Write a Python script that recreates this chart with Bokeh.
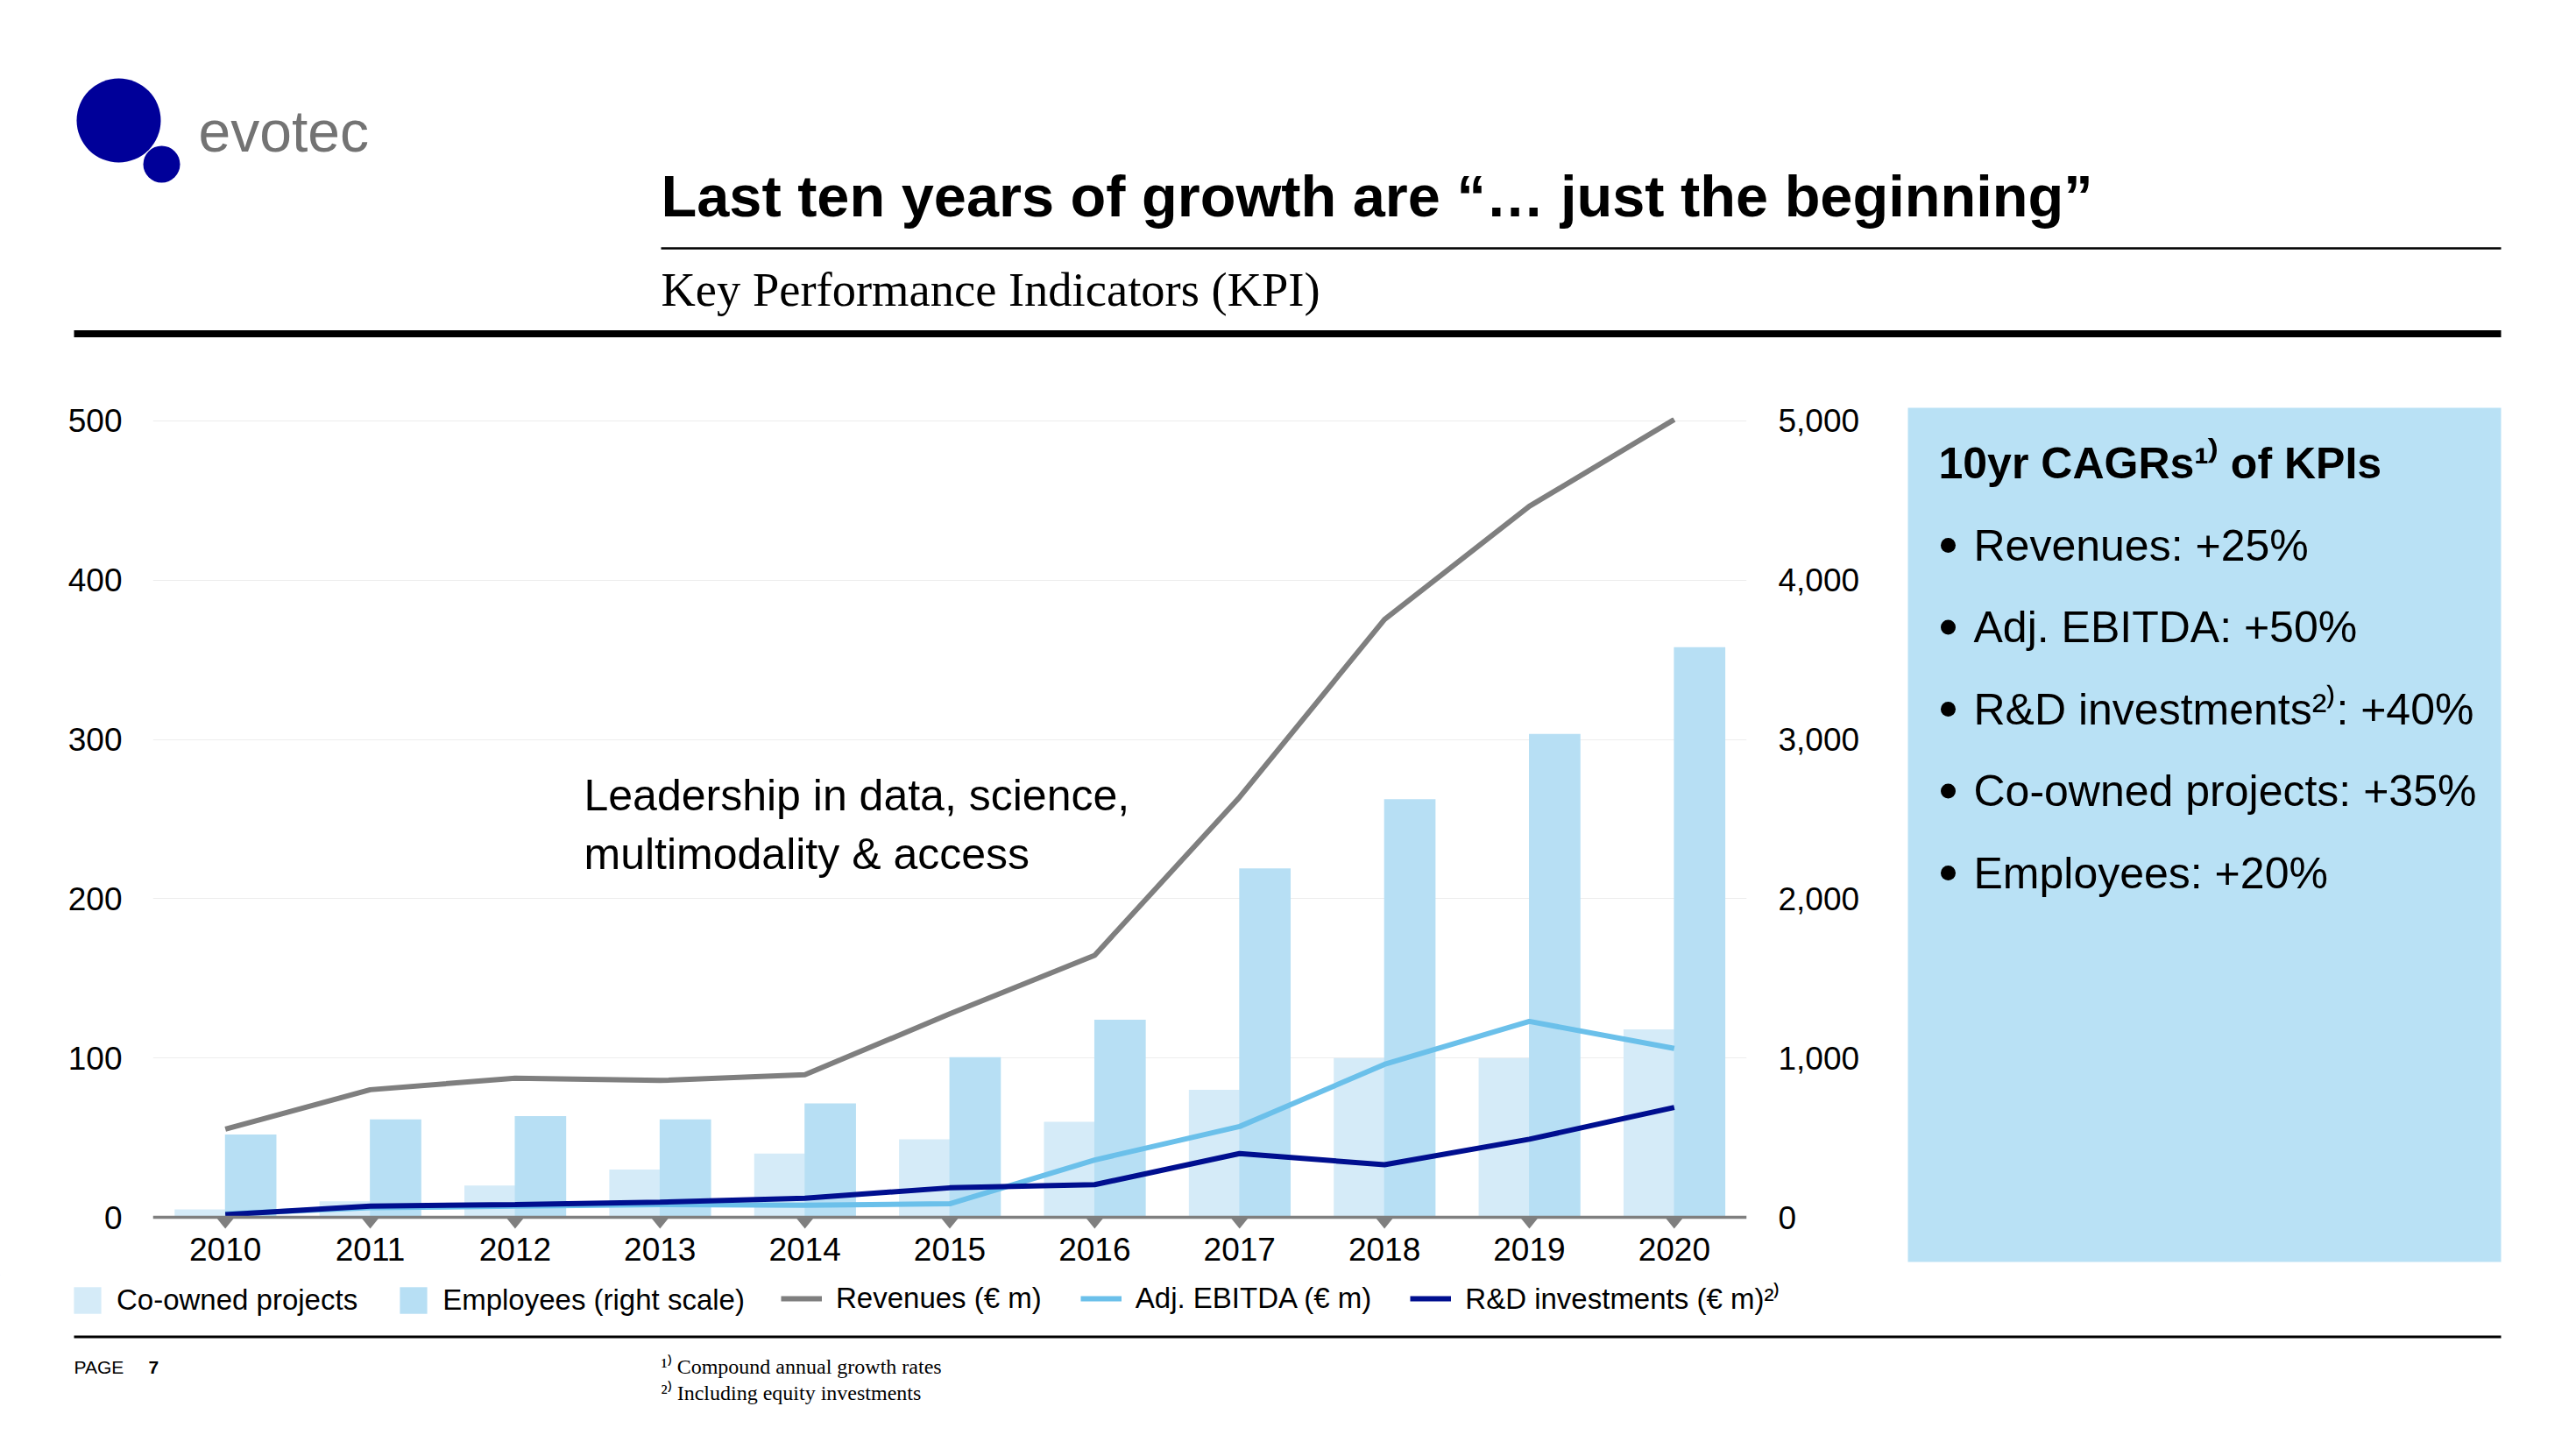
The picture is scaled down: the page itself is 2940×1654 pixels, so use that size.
from bokeh.plotting import figure
from bokeh.models import (ColumnDataSource, Range1d, FactorRange, LinearAxis, FixedTicker,
                          NumeralTickFormatter, Span, Legend, LegendItem, Label)
from bokeh.transform import dodge
from bokeh.layouts import column, row
from bokeh.core.properties import value
from bokeh.embed import file_html
from bokeh.resources import INLINE

# ---------------- data ----------------
years = ["2010", "2011", "2012", "2013", "2014", "2015", "2016", "2017", "2018", "2019", "2020"]
coowned_projects = [5, 10, 20, 30, 40, 49, 60, 80, 100, 100, 118]
employees = [520, 615, 635, 615, 715, 1005, 1240, 2190, 2625, 3035, 3580]
revenues = [55.3, 80.1, 87.3, 85.9, 89.5, 127.7, 164.5, 263.8, 375.4, 446.4, 500.9]
adj_ebitda = [2, 6, 7, 8, 7.5, 8.5, 36, 57, 96, 123, 106]
rd_investments = [1.7, 7, 8, 9.5, 12, 18.5, 20.5, 40, 33, 49, 69]
left_ticks = [0, 100, 200, 300, 400, 500]
right_ticks = [0, 1000, 2000, 3000, 4000, 5000]
cagr_title = "10yr CAGRs\u00b9\u207e of KPIs"
cagr_lines = ["Revenues: +25%", "Adj. EBITDA: +50%", "R&D investments\u00b2\u207e: +40%",
              "Co-owned projects: +35%", "Employees: +20%"]
legend_labels = ["Co-owned projects", "Employees (right scale)", "Revenues (\u20ac m)",
                 "Adj. EBITDA (\u20ac m)", "R&D investments (\u20ac m)\u00b2\u207e"]

SANS = "Liberation Sans"
SERIF = "Liberation Serif"
NAVY_LOGO = "#000099"
GRAY = "#7f7f7f"
CO_COL = "#d5ebf8"
EMP_COL = "#b7dff4"
BOX_COL = "#b9e1f5"
EBITDA_COL = "#6bc0ea"
RD_COL = "#000f8f"

PAGE_W = 2940


def deco_fig(w, h, x0, y0):
    f = figure(width=w, height=h, x_range=Range1d(x0, x0 + w), y_range=Range1d(y0 + h, y0),
               output_backend="svg", toolbar_location=None, min_border=0,
               x_axis_type=None, y_axis_type=None, outline_line_color=None)
    f.background_fill_color = "white"
    f.border_fill_color = "white"
    return f


def txt(f, x, y, s, size, font=SANS, style="normal", color="black", align="left"):
    f.text(x=[x], y=[y], text=[s], text_font=value(font), text_font_size=size,
           text_font_style=style, text_color=color, text_align=align, text_baseline="middle")


# ---------------- header ----------------
hdr = deco_fig(PAGE_W, 430, 0, 0)
hdr.circle(x=[135], y=[137], radius=48, fill_color=NAVY_LOGO, line_color=None)
hdr.circle(x=[184], y=[187], radius=21, fill_color=NAVY_LOGO, line_color=None)
txt(hdr, 226, 149, "evotec", "66px", color="#737373")
txt(hdr, 754, 223, "Last ten years of growth are \u201c\u2026 just the beginning\u201d", "66.7px", style="bold")
hdr.segment(x0=[754], y0=[283], x1=[2854], y1=[283], line_width=2.5, line_color="black")
txt(hdr, 754, 330, "Key Performance Indicators (KPI)", "54.5px", font=SERIF)
hdr.segment(x0=[84], y0=[380.5], x1=[2854], y1=[380.5], line_width=8, line_color="black")

# ---------------- chart ----------------
src = ColumnDataSource(dict(year=years, coowned=coowned_projects, employees=employees,
                            revenues=revenues, ebitda=adj_ebitda, rd=rd_investments))

p = figure(width=2150, height=1025, x_range=FactorRange(factors=years),
           y_range=Range1d(-7.7, 502.2), output_backend="svg", toolbar_location=None,
           min_border_left=174, min_border_right=157, min_border_top=46, min_border_bottom=52,
           outline_line_color=None)
p.extra_y_ranges = {"right": Range1d(-77, 5022)}
p.background_fill_color = "white"
p.border_fill_color = "white"

r_co = p.vbar(x=dodge("year", -0.175, range=p.x_range), top="coowned", width=0.35,
              source=src, fill_color=CO_COL, line_color=None)
r_emp = p.vbar(x=dodge("year", 0.175, range=p.x_range), top="employees", width=0.355,
               source=src, fill_color=EMP_COL, line_color=None, y_range_name="right")

for yr in years:
    p.patch(x=[(yr, -0.064), (yr, 0.064), (yr, 0.0)], y=[0, 0, -7.2],
            fill_color=GRAY, line_color=None)

p.line(x="year", y="revenues", source=src, line_color=GRAY, line_width=6)
p.line(x="year", y="ebitda", source=src, line_color=EBITDA_COL, line_width=6)
p.line(x="year", y="rd", source=src, line_color=RD_COL, line_width=6)

p.add_layout(Span(location=0, dimension="width", line_color=GRAY, line_width=3.5))

# axes
p.xgrid.grid_line_color = None
p.ygrid.grid_line_color = "#ededed"
p.ygrid.grid_line_width = 1.2
p.ygrid.ticker = FixedTicker(ticks=left_ticks)

ax_l = p.yaxis[0]
ax_l.ticker = FixedTicker(ticks=left_ticks)
ax_r = LinearAxis(y_range_name="right", ticker=FixedTicker(ticks=right_ticks),
                  formatter=NumeralTickFormatter(format="0,0"))
p.add_layout(ax_r, "right")
ax_x = p.xaxis[0]

for ax in (ax_l, ax_r, ax_x):
    ax.axis_line_color = None
    ax.major_tick_line_color = None
    ax.minor_tick_line_color = None
    ax.major_label_text_font = SANS
    ax.major_label_text_font_size = "37px"
    ax.major_label_text_color = "black"
ax_l.major_label_standoff = 29
ax_r.major_label_standoff = 30
ax_x.major_label_standoff = 3

# annotation text
p.add_layout(Label(x=492, y=524, x_units="screen", y_units="screen",
                   text="Leadership in data, science,\nmultimodality & access",
                   text_font=SANS, text_font_size="50px", text_baseline="top",
                   text_color="black"))

# ---------------- side box ----------------
side = deco_fig(PAGE_W - 2150, 1025, 2150, 430)
side.quad(left=[2177], right=[2854], top=[465], bottom=[1440], fill_color=BOX_COL, line_color=None)
txt(side, 2212, 528, cagr_title, "50px", style="bold")
mid0, step = 622, 93.5
for i, s in enumerate(cagr_lines):
    ym = mid0 + i * step
    side.circle(x=[2223], y=[ym], radius=8.5, fill_color="black", line_color=None)
    txt(side, 2252, ym, s, "50px")

# ---------------- footer (legend + notes) ----------------
ftr = deco_fig(PAGE_W, 1654 - 1455, 0, 1455)
# legend key glyphs (placed outside the visible range; only their legend swatches show)
k_co = ftr.vbar(x=[-500], top=[-500], bottom=[-501], width=1, fill_color=CO_COL, line_color=None)
k_emp = ftr.vbar(x=[-500], top=[-500], bottom=[-501], width=1, fill_color=EMP_COL, line_color=None)
k_rev = ftr.line(x=[-500, -499], y=[-500, -500], line_color=GRAY, line_width=6)
k_ebitda = ftr.line(x=[-500, -499], y=[-500, -500], line_color=EBITDA_COL, line_width=6)
k_rd = ftr.line(x=[-500, -499], y=[-500, -500], line_color=RD_COL, line_width=6)

common = dict(orientation="horizontal", padding=0, margin=0, border_line_color=None,
              background_fill_alpha=0, label_text_font=SANS, label_text_font_size="33px",
              label_text_color="black", label_height=38, glyph_height=38)
leg_bars = Legend(items=[LegendItem(label=legend_labels[0], renderers=[k_co]),
                         LegendItem(label=legend_labels[1], renderers=[k_emp])],
                  location=(80, 1654 - 1503), glyph_width=39, label_standoff=14, spacing=44, **common)
leg_lines = Legend(items=[LegendItem(label=legend_labels[2], renderers=[k_rev]),
                          LegendItem(label=legend_labels[3], renderers=[k_ebitda]),
                          LegendItem(label=legend_labels[4], renderers=[k_rd])],
                   location=(891, 1654 - 1504), glyph_width=47, label_standoff=16, spacing=44, **common)
ftr.add_layout(leg_bars)
ftr.add_layout(leg_lines)

ftr.segment(x0=[84], y0=[1525.5], x1=[2854], y1=[1525.5], line_width=3, line_color="black")
txt(ftr, 84, 1560, "PAGE", "21px")
txt(ftr, 169, 1560, "7", "21px", style="bold")
txt(ftr, 754, 1559, "\u00b9\u207e Compound annual growth rates", "24px", font=SERIF)
txt(ftr, 754, 1589, "\u00b2\u207e Including equity investments", "24px", font=SERIF)

layout = column(hdr, row(p, column(side, spacing=0), spacing=0), ftr, spacing=0)

with open("out.html", "w") as fh:
    fh.write(file_html(layout, INLINE))
